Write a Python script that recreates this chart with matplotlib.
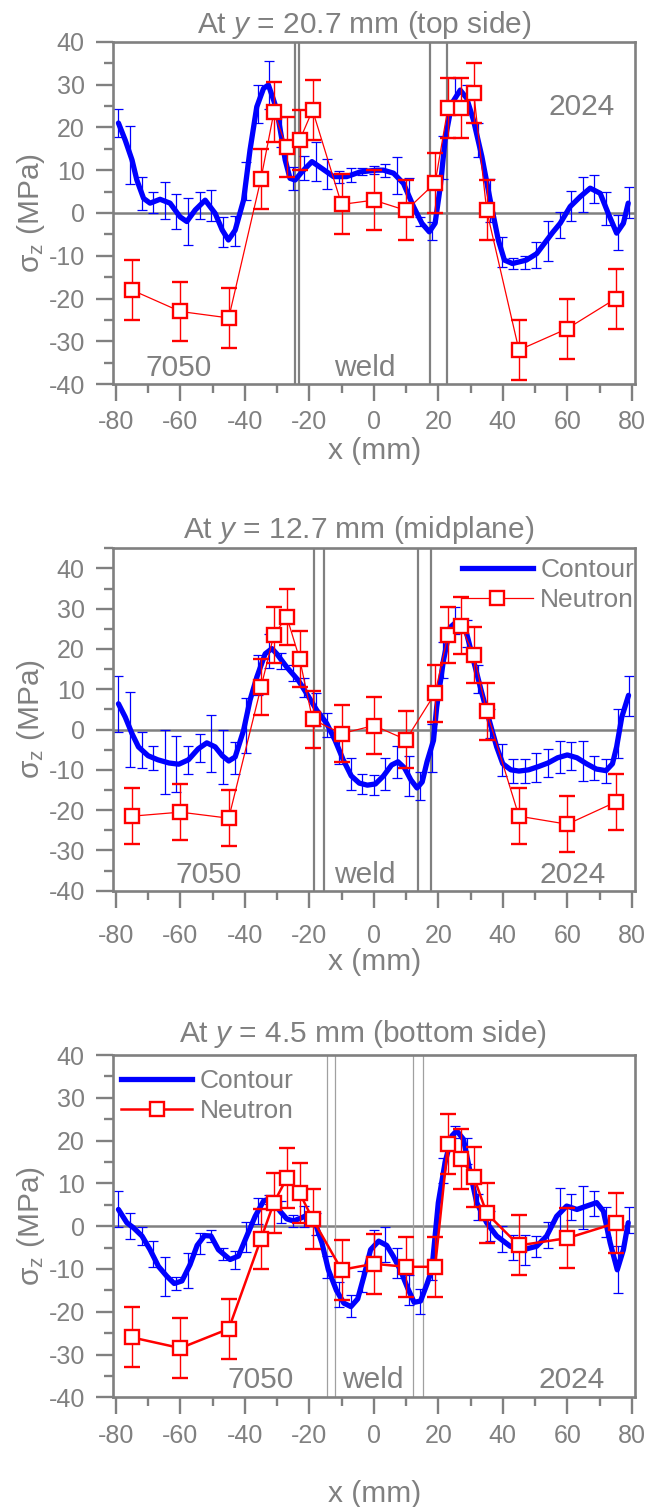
import matplotlib
matplotlib.use('Agg')
import matplotlib.pyplot as plt
from matplotlib.ticker import MultipleLocator
from matplotlib.lines import Line2D

plt.rcParams['font.family'] = ['Liberation Sans', 'DejaVu Sans']
plt.rcParams['mathtext.fontset'] = 'custom'
plt.rcParams['mathtext.rm'] = 'Liberation Sans'
plt.rcParams['mathtext.it'] = 'Liberation Sans:italic'
plt.rcParams['axes.unicode_minus'] = False

GRAY = '#808080'

# --- neutron data (same x for all three panels, error +-7 MPa) ---
neut_x = [-75, -60, -45, -35, -31, -27, -23, -19, -10, 0, 10, 19, 23, 27, 31, 35, 45, 60, 75]
neut_err = 7
top_n = [-18, -23, -24.5, 8, 23.5, 15.3, 17, 24, 2, 3, 0.6, 7, 24.6, 24.6, 28, 0.6, -32, -27, -20]
mid_n = [-21.5, -20.5, -22, 10.5, 23.5, 28, 17.5, 2.5, -1, 1, -2.5, 9, 23.5, 25.8, 18.5, 4.5, -21.5, -23.5, -18]
bot_n = [-26, -28.5, -24, -3, 5.5, 11.2, 7.7, 1.7, -10.2, -8.8, -9.5, -9.5, 19.2, 15.8, 11.5, 3, -4.5, -2.8, 0.7]

# --- contour curves ---
top_cx = [-79.2, -77.1, -75.0, -73.5, -71.4, -69.4, -66.3, -63.2, -60.1, -58.0, -55.4, -52.3, -49.2, -47.0,
          -45.1, -43.0, -40.4, -38.4, -36.3, -34.2, -32.7, -31.1, -30.1, -28.5, -27.5, -26.0, -24.4, -22.3,
          -19.2, -16.1, -12.5, -8.4, -4.2, 0.9, 3.0, 6.1, 9.2, 12.3, 14.9, 17.2, 19.0, 20.6, 22.1, 24.2,
          26.8, 28.8, 30.9, 33.5, 36.1, 38.6, 40.5, 43.0, 47.3, 50.5, 53.0, 55.5, 57.8, 60.9, 64.0, 67.1,
          70.2, 72.7, 75.3, 77.4, 78.9]
top_cy = [21.0, 17.0, 12.4, 7.7, 3.4, 2.3, 3.2, 2.3, -0.9, -2.0, 0.7, 3.0, -0.1, -4.0,
          -6.3, -4.0, 3.0, 14.7, 24.8, 29.1, 29.9, 26.4, 24.1, 17.1, 12.4, 8.1, 7.7, 9.6,
          12.0, 10.4, 8.5, 8.5, 9.6, 10.0, 10.0, 9.3, 6.9, 1.5, -2.4, -4.4, -2.4, 6.1, 17.1, 25.6,
          28.7, 26.8, 21.7, 13.2, 3.0, -6.3, -11.0, -11.8, -11.0, -9.5, -7.0, -4.5, -2.4, 1.5, 3.8, 5.8,
          4.6, -0.1, -4.7, -2.4, 2.3]

mid_cx = [-79.2, -77.1, -75.0, -73.0, -70.0, -67.0, -63.5, -60.5, -57.5, -54.5, -51.8, -49.2, -47.0, -45.0,
          -43.0, -40.4, -38.4, -36.3, -33.7, -31.6, -30.1, -27.0, -23.4, -20.8, -17.7, -14.6, -12.0, -9.5,
          -7.0, -4.5, -2.0, 0.5, 3.0, 5.5, 7.5, 9.5, 11.5, 13.4, 15.0, 16.5, 18.5, 19.5, 21.6, 23.7,
          26.0, 28.8, 30.9, 33.0, 35.5, 38.1, 40.0, 42.5, 45.0, 48.0, 51.0, 54.0, 57.0, 60.0, 63.0, 66.0,
          69.0, 72.0, 74.0, 75.3, 76.9, 79.0]
mid_cy = [6.4, 3.1, -1.0, -4.3, -6.5, -7.5, -8.3, -8.6, -7.5, -4.8, -3.3, -4.3, -6.5, -7.8,
          -6.8, -0.2, 7.3, 13.0, 18.8, 20.1, 18.8, 15.5, 12.2, 8.9, 4.8, 1.5, -2.7, -7.5,
          -11.5, -13.3, -13.8, -13.5, -11.5, -8.8, -8.0, -9.5, -12.5, -14.5, -13.0, -8.0, -2.7, 5.6, 17.2, 25.4,
          27.0, 23.8, 17.2, 10.6, 3.1, -4.3, -8.5, -10.0, -10.3, -10.0, -9.2, -8.3, -7.0, -6.3, -7.0, -8.5,
          -9.8, -10.2, -8.5, -4.3, 3.1, 8.5]

bot_cx = [-79.2, -76.6, -74.5, -71.9, -69.4, -66.8, -64.2, -61.9, -59.5, -57.0, -54.8, -52.5, -50.5, -48.2,
          -44.6, -42.0, -39.4, -36.8, -34.2, -32.0, -29.1, -27.0, -24.9, -22.3, -20.3, -18.2, -16.1, -14.1,
          -11.6, -9.3, -7.1, -5.0, -3.0, -1.0, 1.5, 4.0, 6.0, 8.2, 10.5, 12.5, 14.5, 16.5, 18.0, 20.0,
          22.1, 24.2, 25.7, 27.8, 29.9, 31.9, 35.0, 38.1, 42.3, 46.4, 50.5, 53.6, 56.7, 59.8, 63.0, 66.0,
          69.1, 71.2, 73.3, 75.5, 77.4, 78.9]
bot_cy = [3.9, 0.8, -0.4, -2.3, -5.5, -9.4, -11.7, -13.4, -12.8, -9.0, -4.5, -2.2, -2.3, -5.5,
          -7.8, -7.0, -2.3, 2.3, 5.9, 6.5, 3.5, 1.7, 1.2, 2.0, 2.7, 0.8, -3.9, -10.2,
          -15.0, -18.0, -18.8, -17.0, -11.5, -5.5, -3.5, -4.5, -7.0, -10.2, -14.5, -17.8, -17.5, -13.5, -10.2, 5.5,
          14.9, 21.1, 22.3, 20.3, 12.5, 5.5, 0.8, -2.3, -4.7, -5.5, -4.7, -2.3, 2.3, 4.7, 3.9, 4.7,
          5.5, 3.5, -3.9, -10.2, -5.5, 0.8]

# --- contour error bars (every 3.6 mm) ---
bar_x = [-79.2, -75.6, -72.0, -68.4, -64.8, -61.2, -57.6, -54.0, -50.4, -46.8, -43.2, -39.6, -36.0, -32.4, -28.8,
         -25.2, -21.6, -18.0, -14.4, -10.8, -7.2, -3.6, 0.0, 3.6, 7.2, 10.8, 14.4, 18.0, 21.6, 25.2,
         28.8, 32.4, 36.0, 39.6, 43.2, 46.8, 50.4, 54.0, 57.6, 61.2, 64.8, 68.4, 72.0, 75.6, 79.2]
top_by = [21.0, 13.5, 4.5, 2.5, 3.0, 0.3, -2.0, 1.8, 1.8, -4.5, -4.3, 7.5, 25.5, 29.8, 19.0,
          8.0, 10.5, 12.0, 9.0, 8.4, 8.8, 9.7, 10.0, 10.0, 8.8, 4.5, -2.0, -4.2, 13.0, 27.3,
          26.8, 17.0, 3.0, -9.0, -11.8, -11.5, -9.8, -6.5, -2.8, 1.7, 4.3, 5.6, 1.0, -4.5, 2.4]
top_be = [3.2, 6.7, 3.9, 2.4, 4.3, 4.1, 5.5, 3.1, 3.6, 3.5, 3.5, 4.5, 4.5, 5.6, 3.5,
          2.7, 2.9, 4.5, 3.5, 1.5, 1.6, 0.9, 1.0, 1.5, 4.3, 3.6, 1.0, 2.1, 5.0, 4.2,
          3.0, 4.0, 5.0, 3.5, 1.2, 1.5, 3.1, 4.7, 3.0, 3.5, 4.1, 3.2, 3.9, 4.1, 3.6]
mid_by = [6.4, 0.0, -5.0, -7.0, -8.0, -8.5, -7.5, -4.5, -3.5, -6.8, -7.0, 1.0, 13.5, 19.5, 17.0,
          14.0, 10.5, 5.0, 1.2, -4.5, -11.0, -13.5, -13.7, -11.0, -8.0, -11.5, -14.0, -4.5, 17.2, 27.0,
          23.8, 12.5, 1.5, -7.5, -10.2, -10.2, -9.4, -8.3, -6.8, -6.5, -7.8, -9.6, -10.2, -1.0, 8.4]
mid_be = [7.0, 9.3, 4.5, 3.0, 8.0, 7.0, 3.5, 3.5, 7.0, 6.7, 4.0, 6.8, 5.0, 4.2, 2.0,
          2.0, 2.3, 4.0, 3.0, 4.0, 4.0, 2.5, 2.5, 4.0, 4.0, 5.0, 3.5, 6.0, 4.5, 3.4,
          3.3, 3.5, 3.5, 4.0, 3.0, 3.0, 3.5, 3.5, 4.0, 3.5, 5.0, 3.0, 3.0, 6.0, 5.0]
bot_by = [3.9, 0.0, -2.3, -6.5, -11.8, -13.4, -10.4, -4.0, -2.3, -6.5, -8.0, -2.5, 3.5, 6.2, 3.3,
          1.2, 2.3, 0.5, -9.5, -16.0, -18.7, -13.0, -4.0, -4.3, -8.7, -15.0, -17.6, -10.2, 13.0, 22.0,
          17.5, 4.5, 0.0, -3.0, -5.0, -5.5, -4.7, -2.0, 3.0, 4.5, 4.3, 5.3, 1.0, -10.2, 1.5]
bot_be = [4.2, 3.0, 2.1, 3.0, 4.5, 1.5, 4.1, 2.5, 1.5, 1.5, 2.1, 3.5, 3.0, 1.0, 2.5,
          1.5, 2.5, 2.5, 2.5, 3.0, 2.5, 2.5, 3.0, 4.0, 3.5, 3.5, 3.0, 2.5, 3.0, 1.5,
          3.0, 3.0, 3.5, 3.0, 3.0, 3.5, 2.5, 3.0, 6.0, 3.0, 5.0, 3.0, 3.5, 5.5, 3.0]

# weld boundary lines
top_weld = [-24.4, -23.1, 17.5, 22.6]
mid_weld = [-18.7, -15.4, 13.6, 17.7]
bot_weld = [-14.6, -11.9, 12.1, 15.4]

titles = ['At $y$ = 20.7 mm (top side)', 'At $y$ = 12.7 mm (midplane)', 'At $y$ = 4.5 mm (bottom side)']

fig = plt.figure(figsize=(6.48, 15.07), dpi=100)

LEFT, WIDTH = 0.17485, 0.80509
AX_H_PX = 342.5
panels = [
    dict(rect=[LEFT, 0.74499, WIDTH, 0.22734], cx=top_cx, cy=top_cy, by=top_by, be=top_be, ny=top_n,
         ylim=(-40, 40), weld=top_weld, wlw=1.6, wcol=GRAY, red_lw=0.9, title_x=0.4805, title_off=8.4,
         labels=[(-60.6, -38.1, '7050'), (-2.8, -38.1, 'weld'), (64.5, 22.9, '2024')],
         xpad=6, xlabelpad=2, legend=None),
    dict(rect=[LEFT, 0.40896, WIDTH, 0.22721], cx=mid_cx, cy=mid_cy, by=mid_by, be=mid_be, ny=mid_n,
         ylim=(-40, 45), weld=mid_weld, wlw=1.6, wcol=GRAY, red_lw=0.9, title_x=0.471, title_off=10.0,
         labels=[(-51.3, -38.1, '7050'), (-2.7, -38.1, 'weld'), (61.5, -38.1, '2024')],
         xpad=11.5, xlabelpad=0, legend=(0.668, 0.972)),
    dict(rect=[LEFT, 0.07279, WIDTH, 0.22714], cx=bot_cx, cy=bot_cy, by=bot_by, be=bot_be, ny=bot_n,
         ylim=(-40, 40), weld=bot_weld, wlw=0.9, wcol='#a0a0a0', red_lw=1.8, title_x=0.479, title_off=13.0,
         labels=[(-35.1, -37.9, '7050'), (-0.2, -37.9, 'weld'), (61.2, -37.9, '2024')],
         xpad=6.5, xlabelpad=23, legend=(0.0148, 0.9597)),
]

for p, title in zip(panels, titles):
    ax = fig.add_axes(p['rect'])
    ax.set_xlim(-80.8, 81)
    ax.set_ylim(*p['ylim'])

    ax.axhline(0, color=GRAY, lw=1.8, zorder=1)
    for xw in p['weld']:
        ax.axvline(xw, color=p['wcol'], lw=p['wlw'], zorder=1)

    ax.errorbar(bar_x, p['by'], yerr=p['be'], fmt='none', ecolor='blue', elinewidth=0.9,
                capsize=3.6, capthick=0.9, zorder=2)
    ax.plot(p['cx'], p['cy'], color='blue', lw=3.8, zorder=3, solid_capstyle='round',
            solid_joinstyle='round')
    ax.errorbar(neut_x, p['ny'], yerr=neut_err, color='red', lw=p['red_lw'], marker='s', ms=10.5,
                mfc='white', mec='red', mew=1.7, ecolor='red', elinewidth=1.0, capsize=5.5,
                capthick=1.0, zorder=5)

    for lx, ly, s in p['labels']:
        ax.text(lx, ly, s, ha='center', va='baseline', fontsize=21.5, color=GRAY)

    ax.text(p['title_x'], 1.0 + p['title_off'] / AX_H_PX, title, transform=ax.transAxes,
            ha='center', va='baseline', fontsize=21.5, color=GRAY)

    for side in ['top', 'bottom', 'left', 'right']:
        ax.spines[side].set_color(GRAY)
        ax.spines[side].set_linewidth(1.9)

    ax.xaxis.set_major_locator(MultipleLocator(20))
    ax.xaxis.set_minor_locator(MultipleLocator(10))
    ax.yaxis.set_major_locator(MultipleLocator(10))
    ax.yaxis.set_minor_locator(MultipleLocator(5))
    ax.tick_params(which='both', direction='out', color=GRAY, width=1.7, labelcolor=GRAY,
                   labelsize=18, top=False, right=False)
    ax.tick_params(which='major', length=12.5)
    ax.tick_params(which='minor', length=6.5)
    ax.tick_params(axis='x', which='major', pad=p['xpad'])
    ax.tick_params(axis='y', which='major', pad=8)

    ax.set_xlabel('x (mm)', fontsize=21.5, color=GRAY, labelpad=p['xlabelpad'])
    ax.set_ylabel('σ$_{\\mathrm{z}}$ (MPa)', fontsize=21.5, color=GRAY, labelpad=1)

    if p['legend'] is not None:
        h1 = Line2D([], [], color='blue', lw=3.8)
        h2 = Line2D([], [], color='red', lw=p['red_lw'], marker='s', ms=10.5, mfc='white',
                    mec='red', mew=1.7)
        ax.legend([h1, h2], ['Contour', 'Neutron'], loc='upper left', bbox_to_anchor=p['legend'],
                  frameon=False, fontsize=19, handlelength=2.7, handletextpad=0.27,
                  labelspacing=0.25, borderpad=0, borderaxespad=0, labelcolor=GRAY)

fig.savefig('out.png', dpi=100)
